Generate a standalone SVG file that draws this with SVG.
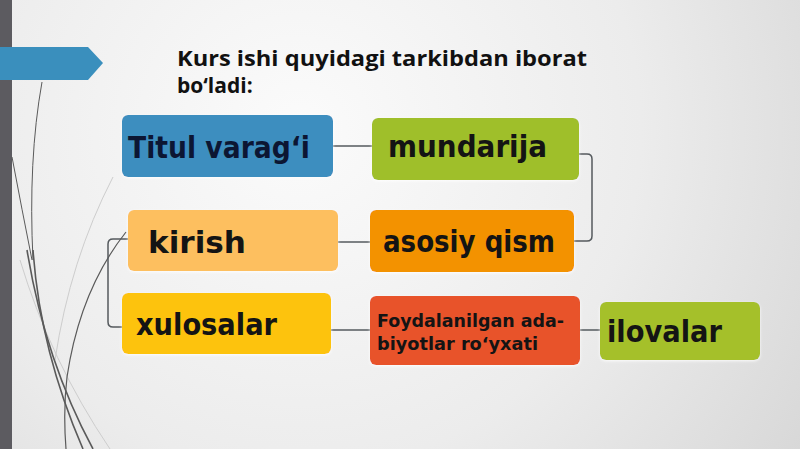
<svg xmlns="http://www.w3.org/2000/svg" width="800" height="449" viewBox="0 0 800 449">
<defs>
<radialGradient id="bg" cx="300" cy="130" r="620" gradientUnits="userSpaceOnUse">
<stop offset="0" stop-color="#fbfbfb"/>
<stop offset="0.55" stop-color="#ececec"/>
<stop offset="1" stop-color="#d6d6d6"/>
</radialGradient>
<filter id="glow" x="-10%" y="-20%" width="120%" height="140%">
<feGaussianBlur in="SourceAlpha" stdDeviation="1.5"/>
<feOffset dx="0" dy="1" result="b"/>
<feFlood flood-color="#ffffff" flood-opacity="0.9"/>
<feComposite in2="b" operator="in"/>
<feMerge><feMergeNode/><feMergeNode in="SourceGraphic"/></feMerge>
</filter>
</defs>
<style>
.box{filter:url(#glow);}
.lbl{font-family:"DejaVu Sans","Noto Sans",sans-serif;font-weight:bold;fill:#141414;}
.big{font-size:30px;}
.small{font-size:17px;}
.title{font-family:"Open Sans","Noto Sans",sans-serif;font-weight:bold;font-size:21px;fill:#111;}
.conn{fill:none;stroke:#555a5e;stroke-width:1.5;}
.wisp{fill:none;stroke:#5a5a5a;}
.faint{fill:none;stroke:#cdcdcd;stroke-width:1;}
</style>
<rect width="800" height="449" fill="url(#bg)"/>
<rect x="0" y="0" width="12" height="449" fill="#5c5b60"/>
<g id="wisps">
<path class="faint" d="M113 177 Q 70 260 55 360"/>
<path class="faint" d="M20 260 Q 50 360 110 449"/>
<path class="wisp" stroke-width="1" d="M42 82 Q 28 160 33 260"/>
<path class="wisp" stroke-width="1" d="M12 157 Q 22 210 32 260"/>
<path class="wisp" stroke-width="1.6" d="M27 250 Q 45 360 93 449"/>
<path class="wisp" stroke-width="1.6" d="M33 250 Q 40 350 83 449"/>
<path class="wisp" stroke-width="1.2" d="M126 232 Q 80 290 67 377 Q 63 410 66 449"/>
</g>
<path id="banner" d="M0 47 H88 L103 63 L88 80 H0 Z" fill="#3a8fbd"/>
<g id="title">
<text class="title" x="177" y="66" textLength="410" lengthAdjust="spacingAndGlyphs">Kurs ishi quyidagi tarkibdan iborat</text>
<text class="title" x="177" y="93">bo‘ladi:</text>
</g>
<g id="connectors">
<path class="conn" d="M333 146 H372"/>
<path class="conn" d="M579 154 H587 Q592 154 592 159 V236 Q592 241 587 241 H574"/>
<path class="conn" d="M338 242 H370"/>
<path class="conn" d="M128 239 H113 Q108 239 108 244 V322 Q108 327 113 327 H122"/>
<path class="conn" d="M331 330 H370"/>
<path class="conn" d="M580 330 H600"/>
</g>
<g id="titul">
<rect class="box" x="122" y="115" width="211" height="62" rx="6" fill="#3e8ebf"/>
<text class="lbl big" x="128" y="158" style="fill:#0c1633" textLength="182" lengthAdjust="spacingAndGlyphs">Titul varag‘i</text>
</g>
<g id="mundarija">
<rect class="box" x="372" y="118" width="207" height="62" rx="6" fill="#9fbf2b"/>
<text class="lbl big" x="388" y="157" textLength="159" lengthAdjust="spacingAndGlyphs">mundarija</text>
</g>
<g id="asosiy">
<rect class="box" x="370" y="210" width="204" height="62" rx="6" fill="#f39200"/>
<text class="lbl big" x="383" y="252" textLength="172" lengthAdjust="spacingAndGlyphs">asosiy qism</text>
</g>
<g id="kirish">
<rect class="box" x="128" y="210" width="210" height="61" rx="6" fill="#fdbf5e"/>
<text class="lbl big" x="148" y="253" textLength="98" lengthAdjust="spacingAndGlyphs">kirish</text>
</g>
<g id="xulosalar">
<rect class="box" x="122" y="293" width="209" height="61" rx="6" fill="#fdc30c"/>
<text class="lbl big" x="136" y="335" textLength="141" lengthAdjust="spacingAndGlyphs">xulosalar</text>
</g>
<g id="foydalanilgan">
<rect class="box" x="370" y="296" width="210" height="69" rx="6" fill="#e8532b"/>
<text class="lbl small" x="377" y="327" textLength="187" lengthAdjust="spacingAndGlyphs">Foydalanilgan ada-</text>
<text class="lbl small" x="377" y="350" textLength="161" lengthAdjust="spacingAndGlyphs">biyotlar ro‘yxati</text>
</g>
<g id="ilovalar">
<rect class="box" x="600" y="302" width="160" height="58" rx="6" fill="#a5c02b"/>
<text class="lbl big" x="607" y="342" textLength="115" lengthAdjust="spacingAndGlyphs">ilovalar</text>
</g>
</svg>
